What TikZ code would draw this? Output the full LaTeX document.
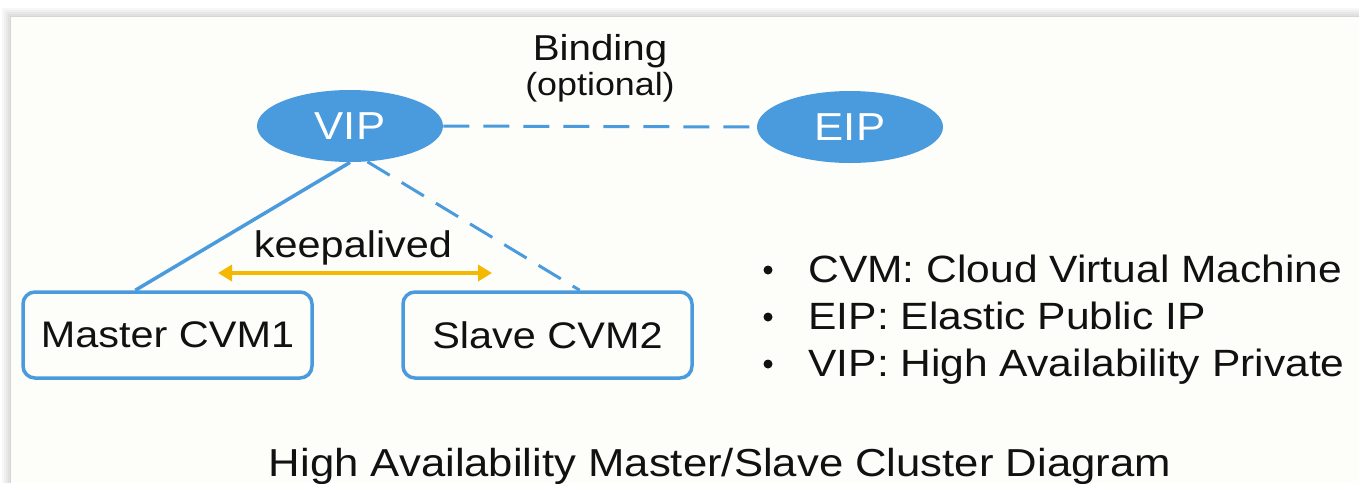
\documentclass[tikz,border=0pt]{standalone}
\usepackage{fontspec}
\setmainfont{Liberation Sans}[FakeStretch=1.12]
\usetikzlibrary{shapes,shapes.geometric,calc,arrows.meta}
\definecolor{ipblue}{HTML}{4A9BDD}
\definecolor{kagold}{HTML}{F5B800}
\definecolor{panelbg}{HTML}{FDFDF9}
\definecolor{ink}{HTML}{111111}
\newcommand{\fsz}[1]{\fontsize{#1}{#1}\selectfont}

\begin{document}
\begin{tikzpicture}
        [x=1pt,y=-1pt,thick,
        ipnode/.style={shape=ellipse,fill=ipblue,text=white,inner
        sep=0pt,minimum width=186pt,minimum height=72pt,font=\fsz{39}},
        cvmbox/.style={shape=rectangle,rounded corners=12pt,draw=ipblue,
        line width=3.5pt,inner sep=0pt,minimum width=289pt,minimum
        height=86pt,text=ink,font=\fsz{37}},
        txt/.style={inner sep=0pt,anchor=base,text=ink},
        link/.style={draw=ipblue,line width=3.5pt},
        optlink/.style={link,line width=3pt,dash pattern=on 26pt off 14pt}]
        \useasboundingbox (0,0) rectangle (1359,483);
        \fill[white] (0,0) rectangle (1359,483);
        \foreach \d/\g in {9/3,7/6,5/9,3/12,1/16}
          \fill[black!\g] (11-\d,17-\d) rectangle (1359,483);
        \fill[panelbg] (11,17) rectangle (1359,483);
        %%
        \node[ipnode] (vip) at (350,126) {VIP};
        \node[ipnode] (eip) at (850,127) {EIP};
        \node[cvmbox] (master) at (167.5,335) {Master CVM1};
        \node[cvmbox] (slave) at (547.5,335) {Slave CVM2};
        %%
        \node[txt,font=\fsz{36}] (bind) at (600,60) {Binding};
        \node[txt,font=\fsz{32}] (opt) at (600,95) {(optional)};
        \node[txt,font=\fsz{37}] (ka) at (353,257) {keepalived};
        \coordinate (kaL) at (218,273);
        \coordinate (kaR) at (492,273);
        \draw[kagold,line width=4pt,
          {Triangle[length=14pt,width=16pt]}-{Triangle[length=14pt,width=16pt]}]
          (kaL) -- (kaR);
        %%
        \draw[link] (vip.south) -- ($(master.north west)!0.39!(master.north east)$);
        \draw[optlink] (vip.-64) -- ($(slave.north west)!0.61!(slave.north east)$);
        \draw[optlink] (vip.east) -- (eip.west);
        %%
        \foreach \n/\y/\t in {CVM/282/{CVM: Cloud Virtual Machine},
          EIP/329/{EIP: Elastic Public IP},
          VIP/376/{VIP: High Availability Private}}
        {
          \fill[ink] (768,\y-12) circle (4.5pt);
          \node[txt,anchor=base west,font=\fsz{38}] (leg\n) at (808,\y) {\t};
        }
        \node[txt,font=\fsz{39}] (title) at (720,476)
          {High Availability Master/Slave Cluster Diagram};
\end{tikzpicture}
\end{document}
